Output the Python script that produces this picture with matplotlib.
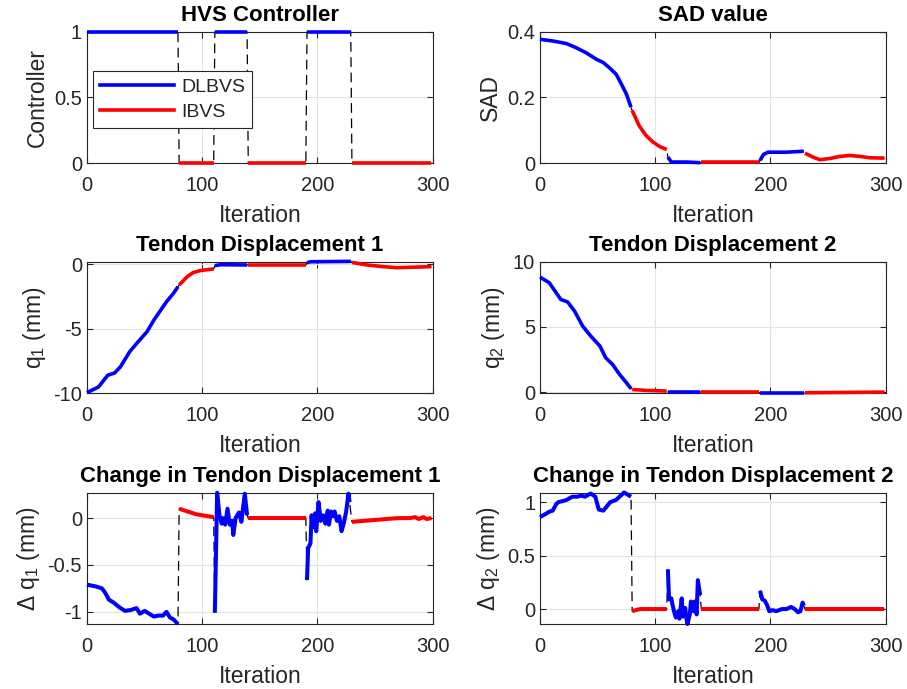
import numpy as np
import matplotlib
matplotlib.use("Agg")
import matplotlib.pyplot as plt
from matplotlib.lines import Line2D
from matplotlib.ticker import FormatStrFormatter

plt.rcParams['font.family'] = ['Liberation Sans', 'DejaVu Sans']
plt.rcParams['axes.unicode_minus'] = False
plt.rcParams['lines.scale_dashes'] = False
plt.rcParams['mathtext.fontset'] = 'custom'
plt.rcParams['mathtext.rm'] = 'Liberation Sans'
plt.rcParams['mathtext.it'] = 'Liberation Sans'
plt.rcParams['mathtext.default'] = 'regular'

# controller switching: a new segment starts after each of these iterations
switch_iters = [79.5, 110.5, 139.5, 190.5, 229.5]
segment_modes = ['DLBVS', 'IBVS', 'DLBVS', 'IBVS', 'DLBVS', 'IBVS']
mode_colors = {'DLBVS': 'blue', 'IBVS': 'red'}

# HVS controller (1 = DLBVS, 0 = IBVS)
ctrl_iter = [0, 79, 80, 110, 111, 139, 140, 190, 191, 229, 230, 299]
ctrl_val = [1, 1, 0, 0, 1, 1, 0, 0, 1, 1, 0, 0]

# SAD value
sad_iter = [0, 11, 23, 31, 40, 49, 55, 60, 66, 70, 75, 79,
            80, 86, 92, 98, 104, 110,
            111, 114, 127, 139,
            140, 190,
            191, 194, 198, 214, 229,
            230, 237, 243, 252, 260, 269, 278, 286, 299]
sad_val = [0.377, 0.372, 0.364, 0.352, 0.336, 0.316, 0.306, 0.291, 0.271, 0.245, 0.21, 0.17,
           0.16, 0.114, 0.084, 0.064, 0.05, 0.041,
           0.018, 0.003, 0.003, 0.001,
           0.002, 0.002,
           0.008, 0.026, 0.033, 0.033, 0.036,
           0.03, 0.018, 0.01, 0.014, 0.02, 0.023, 0.02, 0.016, 0.015]

# tendon displacement 1
q1_iter = [0, 10, 18, 24, 29, 37, 43, 52, 58, 63, 69, 75, 79,
           80, 87, 92, 98, 104, 110,
           111, 116, 139,
           140, 190,
           191, 194, 229,
           230, 243, 257, 269, 281, 299]
q1_val = [-9.97, -9.53, -8.62, -8.44, -7.97, -6.8, -6.16, -5.25, -4.34, -3.69, -2.91, -2.26, -1.74,
          -1.61, -0.96, -0.65, -0.49, -0.42, -0.36,
          -0.1, -0.03, -0.05,
          -0.05, -0.05,
          0.13, 0.2, 0.23,
          0.15, -0.05, -0.18, -0.26, -0.23, -0.18]

# tendon displacement 2
q2_iter = [0, 8, 13, 18, 24, 30, 37, 44, 52, 57, 63, 69, 75, 79,
           80, 92, 110,
           111, 139,
           140, 190,
           191, 210, 229,
           230, 260, 299]
q2_val = [8.82, 8.39, 7.75, 7.11, 6.91, 6.21, 5.06, 4.30, 3.53, 2.63, 2.12, 1.36, 0.72, 0.26,
          0.20, 0.13, 0.08,
          0.03, 0.03,
          0.0, 0.0,
          -0.05, -0.05, -0.05,
          -0.05, -0.03, 0.0]

# change in tendon displacement 1
dq1_iter = [0, 4, 8, 13, 16, 19, 23, 28, 33, 38, 43, 46, 50, 54, 58, 62, 66, 69, 72, 75, 79,
            80, 85, 90, 95, 100, 105, 110,
            111, 113, 115, 117, 118, 120, 122, 124, 126, 127, 129, 132, 134, 137, 139,
            140, 190,
            191, 192, 194, 195, 196, 198, 199, 201, 203, 205, 207, 209, 210, 212, 214, 215,
            217, 219, 221, 223, 225, 227, 228,
            230, 240, 250, 260, 270, 280, 285, 288, 292, 295, 299]
dq1_val = [-0.71, -0.72, -0.73, -0.75, -0.80, -0.87, -0.90, -0.95, -0.99, -0.98, -0.96, -1.02,
           -0.99, -1.02, -1.05, -1.04, -1.04, -1.00, -1.06, -1.08, -1.13,
           0.10, 0.08, 0.06, 0.04, 0.03, 0.02, 0.01,
           -1.01, 0.27, 0.03, -0.06, 0.0, -0.07, 0.10, -0.07, -0.03, -0.18, 0.0, 0.06, -0.04, 0.26, 0.03,
           0.0, 0.0,
           -0.66, -0.32, -0.27, 0.03, -0.10, 0.05, -0.14, 0.17, -0.03, 0.03, -0.06, 0.08, -0.07,
           0.07, 0.02, 0.07, -0.03, 0.02, -0.14, -0.05, 0.07, 0.26, 0.17,
           -0.04, -0.03, -0.02, -0.01, 0.0, 0.0, 0.01, -0.01, 0.01, -0.01, 0.0]

# change in tendon displacement 2
dq2_iter = [0, 5, 8, 11, 14, 16, 20, 23, 28, 32, 36, 39, 44, 48, 50, 51, 55, 58, 61, 66, 70, 73, 76, 79,
            80, 83, 87, 95, 110,
            111, 112, 114, 115, 117, 118, 120, 121, 123, 124, 126, 127, 128, 130, 131, 133, 134, 136, 137, 139,
            140, 190,
            191, 193, 195, 197, 199, 202, 205, 210, 214, 218, 221, 224, 226, 228, 229,
            230, 260, 299]
dq2_val = [0.86, 0.89, 0.91, 0.92, 0.98, 1.0, 1.01, 1.02, 1.05, 1.05, 1.06, 1.05, 1.08, 1.05, 0.97,
           0.93, 0.92, 0.96, 1.0, 1.02, 1.06, 1.09, 1.07, 1.05,
           -0.02, -0.01, 0.0, 0.0, 0.0,
           0.37, 0.09, 0.10, 0.04, -0.05, -0.08, -0.02, -0.09, 0.10, -0.07, 0.01, -0.08, -0.14,
           -0.05, 0.07, -0.02, 0.07, -0.05, 0.27, 0.13,
           0.0, 0.0,
           0.17, 0.09, 0.08, 0.04, -0.02, -0.01, -0.02, 0.0, 0.0, 0.02, 0.0, -0.03, -0.02, 0.06, 0.03,
           0.0, 0.0, 0.0]

fig = plt.figure(figsize=(9.07, 6.89), dpi=100)

left_x, right_x = 0.0959, 0.5954
col_w = 0.3810
row_y = [0.7634, 0.4296, 0.0943]
row_h = 0.1905

axis_col = '#262626'


def draw_series(ax, xs, ys, lw=2.6):
    xs = np.asarray(xs, dtype=float)
    ys = np.asarray(ys, dtype=float)
    # dashed black line joins the segments
    ax.plot(xs, ys, color='k', lw=0.9, linestyle=(0, (7, 4)), zorder=2, clip_on=False)
    seg = np.searchsorted(switch_iters, xs)
    for i, mode in enumerate(segment_modes):
        m = seg == i
        if m.any():
            ax.plot(xs[m], ys[m], color=mode_colors[mode], lw=lw,
                    solid_capstyle='butt', zorder=3, clip_on=False)


def style(ax, title, ylabel, ylim, yticks, yfmt='%g'):
    ax.set_xlim(0, 300)
    ax.set_ylim(*ylim)
    ax.set_xticks([0, 100, 200, 300])
    ax.set_yticks(yticks)
    ax.yaxis.set_major_formatter(FormatStrFormatter(yfmt))
    ax.grid(True, color='#e3e3e3', lw=0.8)
    ax.set_axisbelow(True)
    for s in ax.spines.values():
        s.set_color(axis_col)
        s.set_linewidth(0.8)
    ax.tick_params(direction='in', length=4, width=0.8, colors=axis_col,
                   labelsize=14.5, top=True, right=True)
    ax.tick_params(axis='x', pad=9.5)
    ax.tick_params(axis='y', pad=3.5)
    ax.set_title(title, fontsize=16, fontweight='bold', pad=7.5)
    ax.set_xlabel('Iteration', fontsize=16.5, color=axis_col, labelpad=6)
    ax.set_ylabel(ylabel, fontsize=16.5, color=axis_col, labelpad=4)


ax1 = fig.add_axes([left_x, row_y[0], col_w, row_h])
draw_series(ax1, ctrl_iter, ctrl_val)
style(ax1, 'HVS Controller', 'Controller', (0, 1), [0, 0.5, 1])
handles = [Line2D([], [], color='blue', lw=2.6), Line2D([], [], color='red', lw=2.6)]
leg = ax1.legend(handles, ['DLBVS', 'IBVS'], loc='upper left',
                 bbox_to_anchor=(0.017, 0.702), borderaxespad=0, fontsize=14,
                 handlelength=3.8, handletextpad=0.35, labelspacing=0.38,
                 fancybox=False, framealpha=1, edgecolor=axis_col, borderpad=0.38)
leg.get_frame().set_linewidth(0.8)
for t in leg.get_texts():
    t.set_color(axis_col)

ax2 = fig.add_axes([right_x, row_y[0], col_w, row_h])
draw_series(ax2, sad_iter, sad_val)
style(ax2, 'SAD value', 'SAD', (0, 0.4), [0, 0.2, 0.4])

ax3 = fig.add_axes([left_x, row_y[1], col_w, row_h])
draw_series(ax3, q1_iter, q1_val)
style(ax3, 'Tendon Displacement 1', r'q$_1$ (mm)', (-10.0, 0.2), [-10, -5, 0])

ax4 = fig.add_axes([right_x, row_y[1], col_w, row_h])
draw_series(ax4, q2_iter, q2_val)
style(ax4, 'Tendon Displacement 2', r'q$_2$ (mm)', (-0.07, 10), [0, 5, 10])

ax5 = fig.add_axes([left_x, row_y[2], col_w, row_h])
draw_series(ax5, dq1_iter, dq1_val, lw=2.9)
style(ax5, 'Change in Tendon Displacement 1', r'$\Delta$ q$_1$ (mm)', (-1.13, 0.27), [-1, -0.5, 0])

ax6 = fig.add_axes([right_x, row_y[2], col_w, row_h])
draw_series(ax6, dq2_iter, dq2_val, lw=2.9)
style(ax6, 'Change in Tendon Displacement 2', r'$\Delta$ q$_2$ (mm)', (-0.14, 1.087), [0, 0.5, 1])

fig.savefig('out.png', dpi=100, facecolor='white')
